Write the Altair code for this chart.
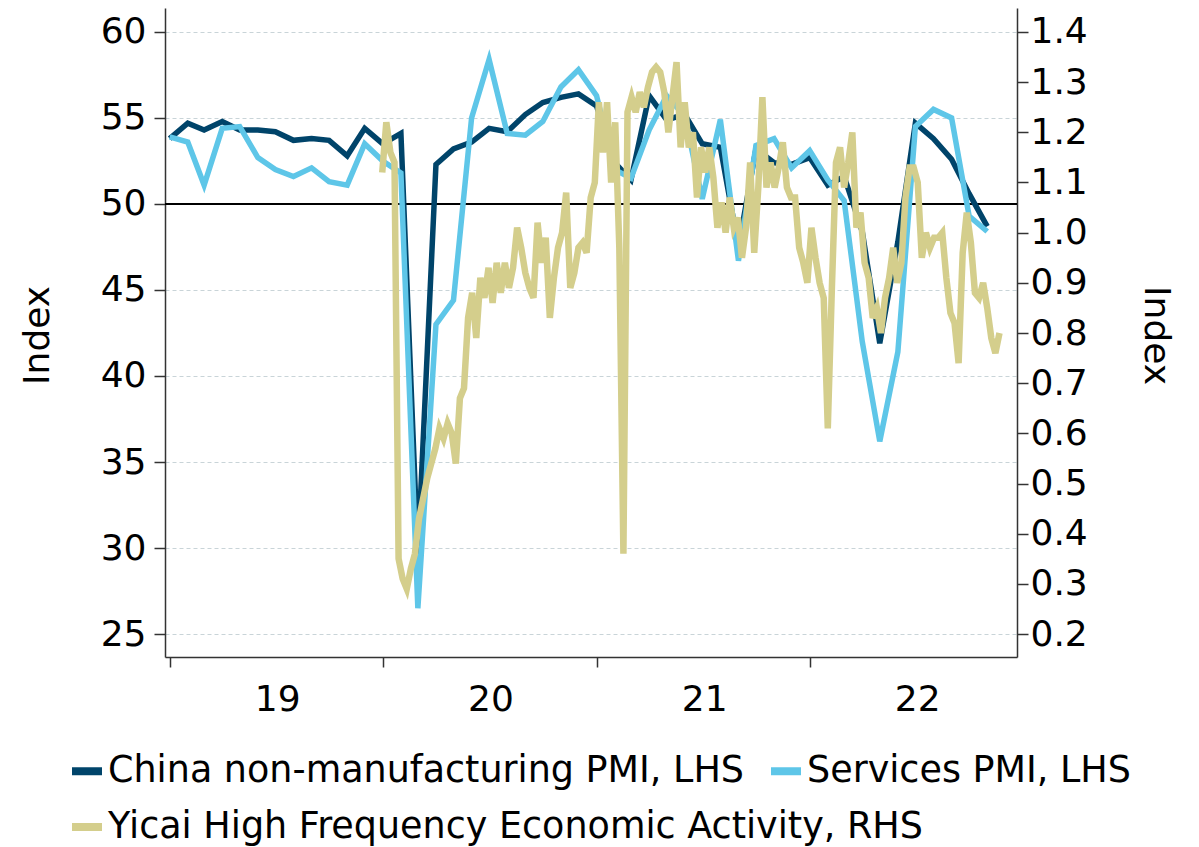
import altair as alt
import pandas as pd

# ---------------- data ----------------
series_names = [
    "China non-manufacturing PMI, LHS",
    "Services PMI, LHS",
    "Yicai High Frequency Economic Activity, RHS",
]
series_colors = ["#00446a", "#5ec6e8", "#d4ce8c"]

# monthly PMI, Dec 2018 .. Oct 2022 (month-end dates)
pmi_months = pd.period_range("2018-12", periods=47, freq="M")
nmi = [53.8, 54.7, 54.3, 54.8, 54.3, 54.3, 54.2, 53.7, 53.8, 53.7, 52.8, 54.4,
       53.5, 54.1, 29.6, 52.3, 53.2, 53.6, 54.4, 54.2, 55.2, 55.9, 56.2, 56.4,
       55.7, 52.4, 51.4, 56.3, 54.9, 55.2, 53.5, 53.3, 47.5, 53.2, 52.4, 52.3,
       52.7, 51.1, 51.6, 48.4, 41.9, 47.8, 54.7, 53.8, 52.6, 50.6, 48.7]
services = [53.9, 53.6, 51.1, 54.4, 54.5, 52.7, 52.0, 51.6, 52.1, 51.3, 51.1, 53.5,
            52.5, 51.8, 26.5, 43.0, 44.4, 55.0, 58.4, 54.1, 54.0, 54.8, 56.8, 57.8,
            56.3, 52.0, 51.5, 54.3, 56.3, 55.1, 50.3, 54.9, 46.7, 53.4, 53.8, 52.1,
            53.1, 51.4, 50.2, 42.0, 36.2, 41.4, 54.5, 55.5, 55.0, 49.3, 48.4]

# weekly Yicai index, from 30 Dec 2019
yicai_start = "2019-12-30"
yicai = [1.12, 1.22, 1.16, 1.14, 0.35, 0.31, 0.29, 0.33, 0.36, 0.43,
         0.47, 0.51, 0.54, 0.57, 0.61, 0.59, 0.62, 0.60, 0.54, 0.67,
         0.69, 0.83, 0.88, 0.79, 0.91, 0.87, 0.93, 0.86, 0.94, 0.88,
         0.94, 0.89, 0.93, 1.01, 0.97, 0.92, 0.89, 0.87, 1.02, 0.94,
         0.99, 0.83, 0.91, 0.97, 1.00, 1.08, 0.89, 0.92, 0.97, 0.98,
         0.96, 1.07, 1.10, 1.26, 1.16, 1.26, 1.10, 1.22, 0.97, 0.36,
         1.24, 1.27, 1.24, 1.28, 1.25, 1.29, 1.32, 1.33, 1.32, 1.28,
         1.20, 1.27, 1.34, 1.17, 1.26, 1.17, 1.20, 1.07, 1.17, 1.12,
         1.17, 1.11, 1.01, 1.06, 1.00, 1.07, 1.01, 1.03, 0.95, 1.01,
         1.14, 0.96, 1.09, 1.27, 1.09, 1.14, 1.09, 1.13, 1.18, 1.09,
         1.07, 1.07, 0.97, 0.94, 0.90, 1.01, 0.95, 0.90, 0.87, 0.61,
         0.89, 1.14, 1.17, 1.09, 1.14, 1.20, 1.01, 1.04, 0.94, 0.91,
         0.83, 0.85, 0.80, 0.87, 0.91, 0.97, 0.90, 0.94, 1.07, 1.13,
         1.13, 1.10, 0.95, 1.00, 0.97, 0.99, 0.99, 1.00, 0.91, 0.84,
         0.82, 0.74, 0.96, 1.04, 0.98, 0.88, 0.87, 0.90, 0.85, 0.79,
         0.76, 0.80]

left_ticks = [25, 30, 35, 40, 45, 50, 55, 60]
right_ticks = [0.2, 0.3, 0.4, 0.5, 0.6, 0.7, 0.8, 0.9, 1.0, 1.1, 1.2, 1.3, 1.4]
year_ticks = [2019, 2020, 2021, 2022]

# ---------------- tables ----------------
fmt = "%Y-%m-%dT00:00:00"
pmi_dates = [p.to_timestamp(how="end").strftime(fmt) for p in pmi_months]
nmi_df = pd.DataFrame({"date": pmi_dates, "value": nmi, "series": series_names[0]})
svc_df = pd.DataFrame({"date": pmi_dates, "value": services, "series": series_names[1]})
yicai_dates = [d.strftime(fmt) for d in pd.date_range(yicai_start, periods=len(yicai), freq="7D")]
yicai_df = pd.DataFrame({"date": yicai_dates, "value": yicai, "series": series_names[2]})
ref_df = pd.DataFrame({"value": [50]})

FONT = "DejaVu Sans"

x_enc = alt.X(
    "date:T",
    title=None,
    scale=alt.Scale(domain=[alt.DateTime(year=2018, month=12, date=23),
                            alt.DateTime(year=2022, month=12, date=21)]),
    axis=alt.Axis(
        values=[alt.DateTime(year=y, month=1, date=1) for y in year_ticks],
        format="%y", labelOffset=107, labelPadding=15, tickSize=10,
        grid=False, domain=True, labelAngle=0,
    ),
)

left_scale = alt.Scale(domain=[23.663, 61.395], nice=False, zero=False)
left_axis = alt.Axis(
    values=left_ticks, title="Index", grid=True, gridDash=[4, 3],
    gridColor="#c9d4d8", gridWidth=1, tickSize=11, labelPadding=8,
    titleAngle=270, titleX=-128, titleY=327, titleBaseline="middle",
)
right_scale = alt.Scale(domain=[0.1542, 1.4478], nice=False, zero=False)
right_axis = alt.Axis(
    values=right_ticks, format=".1f", title="Index", grid=False, orient="right",
    tickSize=11, labelPadding=2,
    titleAngle=90, titleX=138, titleY=327, titleBaseline="middle",
)

pmi_color_scale = alt.Scale(domain=series_names[:2], range=series_colors[:2])
pmi_legend = alt.Legend(
    title=None, orient="none", legendX=-97, legendY=744, direction="horizontal",
    symbolType="stroke", symbolStrokeWidth=8, symbolSize=900,
    labelFontSize=36.5, labelFont=FONT, labelColor="black", labelLimit=0,
    columnPadding=10, padding=0, labelOffset=2,
)
yicai_legend = alt.Legend(
    title=None, orient="none", legendX=-97, legendY=800, direction="horizontal",
    symbolType="stroke", symbolStrokeWidth=8, symbolSize=900,
    labelFontSize=36.5, labelFont=FONT, labelColor="black", labelLimit=0,
    padding=0, labelOffset=2,
)

rule = alt.Chart(ref_df).mark_rule(color="black", strokeWidth=2).encode(
    y=alt.Y("value:Q", scale=left_scale, axis=left_axis)
)

def pmi_line(df):
    return alt.Chart(df).mark_line(strokeWidth=5.5).encode(
        x=x_enc,
        y=alt.Y("value:Q", scale=left_scale, axis=left_axis),
        color=alt.Color("series:N", scale=pmi_color_scale, legend=pmi_legend),
    )

left_layer = alt.layer(rule, pmi_line(nmi_df), pmi_line(svc_df))

yicai_line = alt.Chart(yicai_df).mark_line(strokeWidth=6.5).encode(
    x=x_enc,
    y=alt.Y("value:Q", scale=right_scale, axis=right_axis),
    color=alt.Color("series:N",
                    scale=alt.Scale(domain=[series_names[2]], range=[series_colors[2]]),
                    legend=yicai_legend),
)

chart = (
    alt.layer(left_layer, yicai_line)
    .resolve_scale(y="independent", color="independent")
    .properties(
        width=852, height=649,
        autosize=alt.AutoSizeParams(type="none"),
        padding={"left": 157, "top": 0, "right": 174, "bottom": 190},
    )
    .configure_view(strokeWidth=0)
    .configure_axis(
        labelFont=FONT, titleFont=FONT, labelFontSize=36, titleFontSize=36,
        titleFontWeight="normal", labelColor="black", titleColor="black",
        domainColor="#333333", tickColor="#333333", domainWidth=1.5, tickWidth=1.5,
    )
    .configure_legend(labelFont=FONT)
)

chart.save("out.html", embed_options={"renderer": "svg", "actions": False})
